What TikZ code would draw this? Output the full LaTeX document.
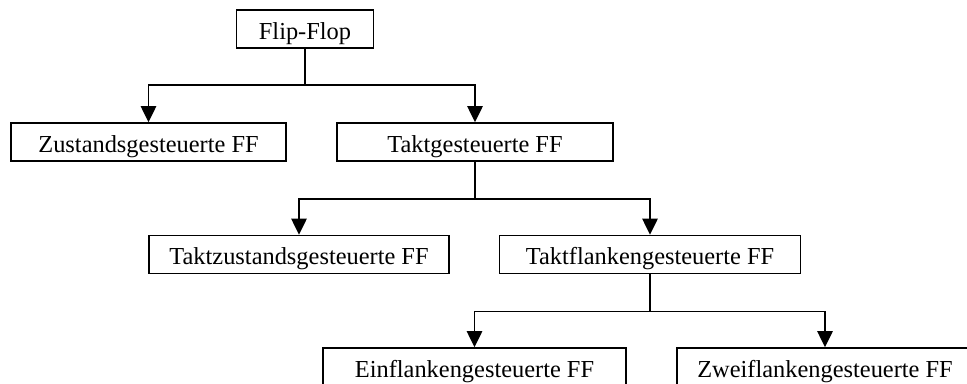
\documentclass[tikz,border=0pt]{standalone}
\usepackage{fontspec}
\setmainfont{Liberation Serif}
\usetikzlibrary{arrows.meta}

\tikzset{
  ffbox/.style={draw, line width=1.2pt, minimum height=28.5pt, inner sep=0pt,
    text height=15.6pt, text depth=0pt, font=\fontsize{18.3}{21}\selectfont},
}

\begin{document}
\begin{tikzpicture}[x=0.75pt, y=-0.75pt, >={Triangle[length=12pt,width=11.5pt]}, line width=1.2pt]
      \useasboundingbox (0, 0) rectangle (967, 383);
      \clip (0, 0) rectangle (967, 383);

      \node[ffbox, minimum width=102.75pt] (ff) at (305, 29) {Flip-Flop};

      \node[ffbox, minimum width=206.25pt] (zust) at (148.5, 142) {Zustandsgesteuerte FF};
      \node[ffbox, minimum width=207pt] (takt) at (475, 142) {Taktgesteuerte FF};

      \node[ffbox, minimum width=225pt] (tzust) at (299, 254.5) {Taktzustandsgesteuerte FF};
      \node[ffbox, minimum width=225.75pt] (tflank) at (650, 254.5) {Taktflankengesteuerte FF};

      \node[ffbox, minimum width=227.25pt] (einfl) at (474.5, 367) {Einflankengesteuerte FF};
      \node[ffbox, minimum width=222pt] (zweifl) at (825, 367) {Zweiflankengesteuerte FF};

      \draw (ff.south) -- ++(0, 36) coordinate (b1);
      \draw[->] (b1) -| (zust.north);
      \draw[->] (b1) -| (takt.north);

      \draw (takt.south) -- ++(0, 37) coordinate (b2);
      \draw[->] (b2) -| (tzust.north);
      \draw[->] (b2) -| (tflank.north);

      \draw (tflank.south) -- ++(0, 37) coordinate (b3);
      \draw[->] (b3) -| (einfl.north);
      \draw[->] (b3) -| (zweifl.north);
    \end{tikzpicture}
\end{document}
